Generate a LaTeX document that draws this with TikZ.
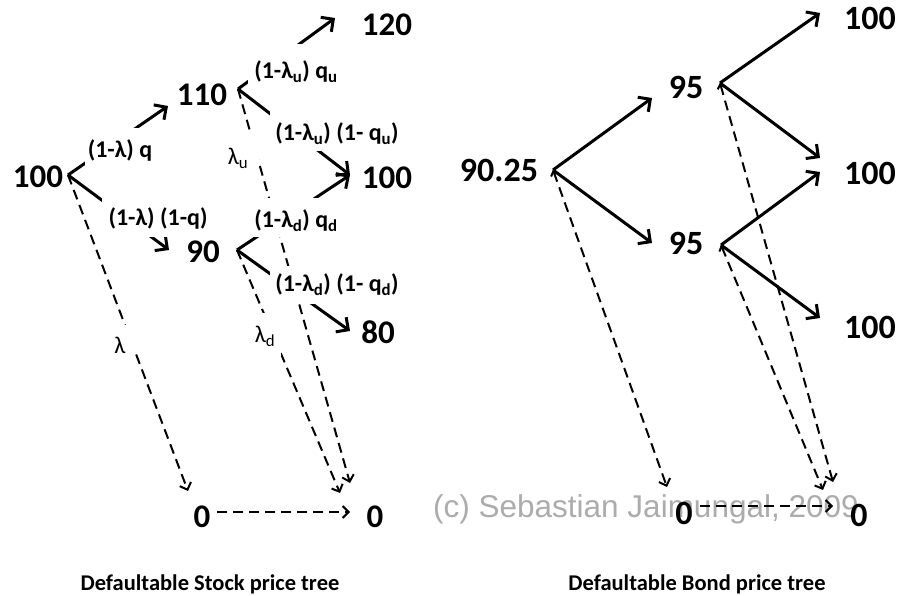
\documentclass[tikz,border=0pt]{standalone}
\usepackage{fontspec}
\setmainfont{Carlito}
\newfontfamily\wmfont{Liberation Sans}
\usetikzlibrary{arrows.meta}
\definecolor{wmgray}{RGB}{172,172,172}
\begin{document}
\begin{tikzpicture}[x=1pt,y=-1pt,
  num/.style={font=\fontsize{33}{38}\selectfont\bfseries, inner sep=0pt},
  bnum/.style={font=\fontsize{34}{40}\selectfont\bfseries, inner sep=0pt},
  lab/.style={font=\fontsize{24}{28}\selectfont\bfseries, fill=white, inner ysep=0pt, anchor=base},
  glab/.style={font=\fontsize{24}{28}\selectfont, fill=white, inner ysep=0pt, anchor=base},
  sedge/.style={line width=3pt, -{Straight Barb[length=9pt,width=18pt]}},
  dedge/.style={line width=2pt, dash pattern=on 10pt off 6pt, -{Straight Barb[length=6pt,width=12pt]}},
  dedgeb/.style={line width=2pt, dash pattern=on 10pt off 6pt, {Straight Barb[length=4pt,width=8pt]}-{Straight Barb[length=6pt,width=12pt]}},
  captext/.style={font=\fontsize{22.5}{26}\selectfont\bfseries, anchor=base},
  wmark/.style={font=\wmfont\fontsize{31.5}{36}\selectfont, text=wmgray, anchor=base west, inner sep=0pt}
]
\path[use as bounding box, fill=white] (0,0) rectangle (898,596);

% watermark (behind)
\node[wmark] (wm) at (433,517) {(c) Sebastian Jaimungal, 2009};

% ---------- Stock tree nodes ----------
\node[num] (s0)  at (38,177) {100};
\node[num] (s1u) at (202,95) {110};
\node[num] (s1d) at (203,252) {90};
\node[num] (s2u) at (387,25) {120};
\node[num] (s2m) at (387,178) {100};
\node[num] (s2d) at (378,332) {80};
\node[num] (sz1) at (202,517) {0};
\node[num] (sz2) at (375,517) {0};

\coordinate (v0)  at (68,175);
\coordinate (v1u) at (238,89);
\coordinate (v1d) at (237,250);
\coordinate (t1u) at (168,106);
\coordinate (t1d) at (169,250);
\coordinate (t2u) at (335,18);
\coordinate (t2m) at (350,175);
\coordinate (t2d) at (350,331);
\coordinate (tz1) at (188,491);
\coordinate (tz2a) at (350,483);
\coordinate (tz2b) at (340,493);
\coordinate (hz1) at (217,512);
\coordinate (hz2) at (350,512);

\draw[sedge] (v0) -- (t1u);
\draw[sedge] (v0) -- (t1d);
\draw[sedge] (v1u) -- (t2u);
\draw[sedge] (v1u) -- (t2m);
\draw[sedge] (v1d) -- (t2m);
\draw[sedge] (v1d) -- (t2d);
\draw[dedge] (v0) -- (tz1);
\draw[dedge] (v1u) -- (tz2a);
\draw[dedge] (v1d) -- (tz2b);
\draw[dedge] (hz1) -- (hz2);

% labels
\node[lab, text height=30pt, text depth=10pt, inner xsep=3pt] (l1) at (120,158) {(1-λ) q};
\node[lab, text height=28pt, text depth=11pt, inner xsep=7pt] (l2) at (158,226) {(1-λ) (1-q)};
\node[lab, text height=35pt, text depth=7pt, inner xsep=6pt] (l3) at (296,79) {(1-λ\textsubscript{u}) q\textsubscript{u}};
\node[lab, text height=30pt, text depth=10pt, inner xsep=5pt] (l4) at (337,141) {(1-λ\textsubscript{u}) (1- q\textsubscript{u})};
\node[lab, text height=30pt, text depth=9pt, inner xsep=5pt] (l5) at (296,228) {(1-λ\textsubscript{d}) q\textsubscript{d}};
\node[lab, text height=26pt, text depth=12.5pt, inner xsep=5pt] (l6) at (337,292) {(1-λ\textsubscript{d}) (1- q\textsubscript{d})};
\node[glab, text height=32pt, text depth=3pt, inner xsep=11pt] (l7) at (238,165) {λ\textsubscript{u}};
\node[glab, text height=30pt, text depth=14pt, inner xsep=6pt] (l8) at (265,343) {λ\textsubscript{d}};
\node[glab, text height=29pt, text depth=1pt, inner xsep=9pt] (l9) at (120,354) {λ};

% ---------- Bond tree ----------
\node[bnum] (b0)  at (499,170) {90.25};
\node[bnum] (b1u) at (686,87) {95};
\node[bnum] (b1d) at (686,243) {95};
\node[bnum] (b2u) at (870,18) {100};
\node[bnum] (b2m) at (870,173) {100};
\node[bnum] (b2d) at (870,327) {100};
\node[bnum] (bz1) at (684,513) {0};
\node[bnum] (bz2) at (859,515) {0};

\coordinate (w0)  at (553,170);
\coordinate (w1u) at (720,83);
\coordinate (w1d) at (721,245);
\coordinate (u1u) at (652,98);
\coordinate (u1d) at (652,243);
\coordinate (u2a) at (820,13);
\coordinate (u2b) at (820,158);
\coordinate (u2c) at (820,172);
\coordinate (u2d) at (820,318);
\coordinate (e1) at (667,487);
\coordinate (e2) at (833,482);
\coordinate (e3) at (823,490);
\coordinate (h1) at (700,506);
\coordinate (h2) at (833,506);

\draw[sedge] (w0) -- (u1u);
\draw[sedge] (w0) -- (u1d);
\draw[sedge] (w1u) -- (u2a);
\draw[sedge] (w1u) -- (u2b);
\draw[sedge] (w1d) -- (u2c);
\draw[sedge] (w1d) -- (u2d);
\draw[dedgeb] (w0) -- (e1);
\draw[dedgeb] (w1u) -- (e2);
\draw[dedgeb] (w1d) -- (e3);
\draw[dedge] (h1) -- (h2);

% captions
\node[captext] (c1) at (210,590) {Defaultable Stock price tree};
\node[captext] (c2) at (697,590) {Defaultable Bond price tree};
\end{tikzpicture}
\end{document}
